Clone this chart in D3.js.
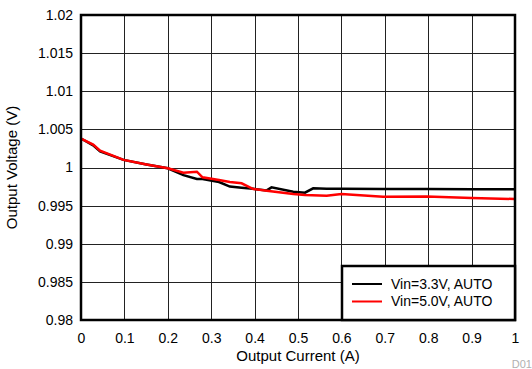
<!DOCTYPE html>
<html>
<head>
<meta charset="utf-8">
<script src="https://cdn.jsdelivr.net/npm/d3@7"></script>
<style>
  body { margin: 0; background: #fff; }
  text { font-family: "Liberation Sans", Arial, sans-serif; }
</style>
</head>
<body>
<div id="chart"></div>
<script>
// values
const current33 = [0, 0.028, 0.044, 0.098, 0.151, 0.20, 0.236, 0.267, 0.28, 0.318, 0.343, 0.37, 0.397, 0.428, 0.439, 0.489, 0.516, 0.535, 0.566, 0.60, 0.696, 0.797, 0.90, 1.0];
const vout33 = [1.0038, 1.0029, 1.0021, 1.0010, 1.0004, 0.9999, 0.9990, 0.9985, 0.9985, 0.9981, 0.9975, 0.99735, 0.9972, 0.9970, 0.9974, 0.99683, 0.9967, 0.99727, 0.99722, 0.9972, 0.99718, 0.99718, 0.99714, 0.99714];
const current50 = [0, 0.028, 0.044, 0.098, 0.151, 0.20, 0.236, 0.267, 0.28, 0.318, 0.343, 0.37, 0.397, 0.428, 0.489, 0.516, 0.566, 0.60, 0.696, 0.797, 0.90, 1.0];
const vout50 = [1.0038, 1.0030, 1.0022, 1.0010, 1.0004, 0.9999, 0.99932, 0.99945, 0.99871, 0.99836, 0.9981, 0.99793, 0.99718, 0.99696, 0.99652, 0.9964, 0.9963, 0.99652, 0.99617, 0.9962, 0.9960, 0.99587];
const xTicks = [0, 0.1, 0.2, 0.3, 0.4, 0.5, 0.6, 0.7, 0.8, 0.9, 1];
const yTicks = [0.98, 0.985, 0.99, 0.995, 1, 1.005, 1.01, 1.015, 1.02];
const seriesNames = ['Vin=3.3V, AUTO', 'Vin=5.0V, AUTO'];
const seriesColors = ['#000000', '#ff0000'];

const width = 532, height = 369;
const margin = {left: 81, top: 15, right: 17, bottom: 49};
const plotW = width - margin.left - margin.right;
const plotH = height - margin.top - margin.bottom;
const tickFont = '14px';
const titleFont = '15px';

let svg = d3.select('#chart').append('svg')
    .attr('width', width).attr('height', height);
let g = svg.append('g').attr('transform', 'translate(' + margin.left + ',' + margin.top + ')');

let x = d3.scaleLinear().domain([0, 1]).range([0, plotW]);
let y = d3.scaleLinear().domain([0.98, 1.02]).range([plotH, 0]);

// grid
g.append('g').selectAll('line').data(xTicks).enter().append('line')
    .attr('x1', d => Math.round(x(d)) + 0.5).attr('x2', d => Math.round(x(d)) + 0.5)
    .attr('y1', 0).attr('y2', plotH)
    .attr('stroke', '#222').attr('stroke-width', 1);
g.append('g').selectAll('line').data(yTicks).enter().append('line')
    .attr('y1', d => Math.round(y(d)) + 0.5).attr('y2', d => Math.round(y(d)) + 0.5)
    .attr('x1', 0).attr('x2', plotW)
    .attr('stroke', '#222').attr('stroke-width', 1);

// axes labels
let xAxis = d3.axisBottom(x).tickValues(xTicks).tickSize(0).tickPadding(13)
    .tickFormat(d => d3.format('')(d));
let xg = g.append('g').attr('transform', 'translate(0,' + plotH + ')').call(xAxis);
let yAxis = d3.axisLeft(y).tickValues(yTicks).tickSize(0).tickPadding(8)
    .tickFormat(d => d3.format('')(+d.toFixed(3)));
let yg = g.append('g').call(yAxis);
[xg, yg].forEach(function(a) {
    a.select('.domain').remove();
    a.selectAll('text').attr('font-size', tickFont).attr('fill', '#000')
        .style('font-family', '"Liberation Sans", Arial, sans-serif');
});

// lines
let line = d3.line().x(d => x(d[0])).y(d => y(d[1]));
let data33 = current33.map((c, i) => [c, vout33[i]]);
let data50 = current50.map((c, i) => [c, vout50[i]]);
g.append('path').datum(data33).attr('d', line)
    .attr('fill', 'none').attr('stroke', seriesColors[0]).attr('stroke-width', 2.5);
g.append('path').datum(data50).attr('d', line)
    .attr('fill', 'none').attr('stroke', seriesColors[1]).attr('stroke-width', 2.5);

// frame
g.append('rect').attr('x', 0).attr('y', 0).attr('width', plotW).attr('height', plotH)
    .attr('fill', 'none').attr('stroke', '#000').attr('stroke-width', 2.5);

// legend
let legend = g.append('g').attr('transform', 'translate(' + (342 - margin.left) + ',' + (266 - margin.top) + ')');
legend.append('rect').attr('width', plotW - (342 - margin.left)).attr('height', plotH - (266 - margin.top))
    .attr('fill', '#fff').attr('stroke', '#000').attr('stroke-width', 2.5);
seriesNames.forEach(function(name, i) {
    let yy = 18 + i * 17.5;
    legend.append('line').attr('x1', 10).attr('x2', 40).attr('y1', yy).attr('y2', yy)
        .attr('stroke', seriesColors[i]).attr('stroke-width', 2);
    legend.append('text').attr('x', 49).attr('y', yy).attr('dy', '0.35em')
        .attr('font-size', tickFont).text(name);
});

// titles
svg.append('text').attr('x', margin.left + plotW / 2).attr('y', 361)
    .attr('text-anchor', 'middle').attr('font-size', titleFont).text('Output Current (A)');
svg.append('text').attr('transform', 'translate(17,' + (margin.top + plotH / 2) + ') rotate(-90)')
    .attr('text-anchor', 'middle').attr('font-size', titleFont).text('Output Voltage (V)');
svg.append('text').attr('x', 532).attr('y', 368).attr('text-anchor', 'end')
    .attr('font-size', '11px').attr('fill', '#b0b0b0').text('D01');
</script>
</body>
</html>
